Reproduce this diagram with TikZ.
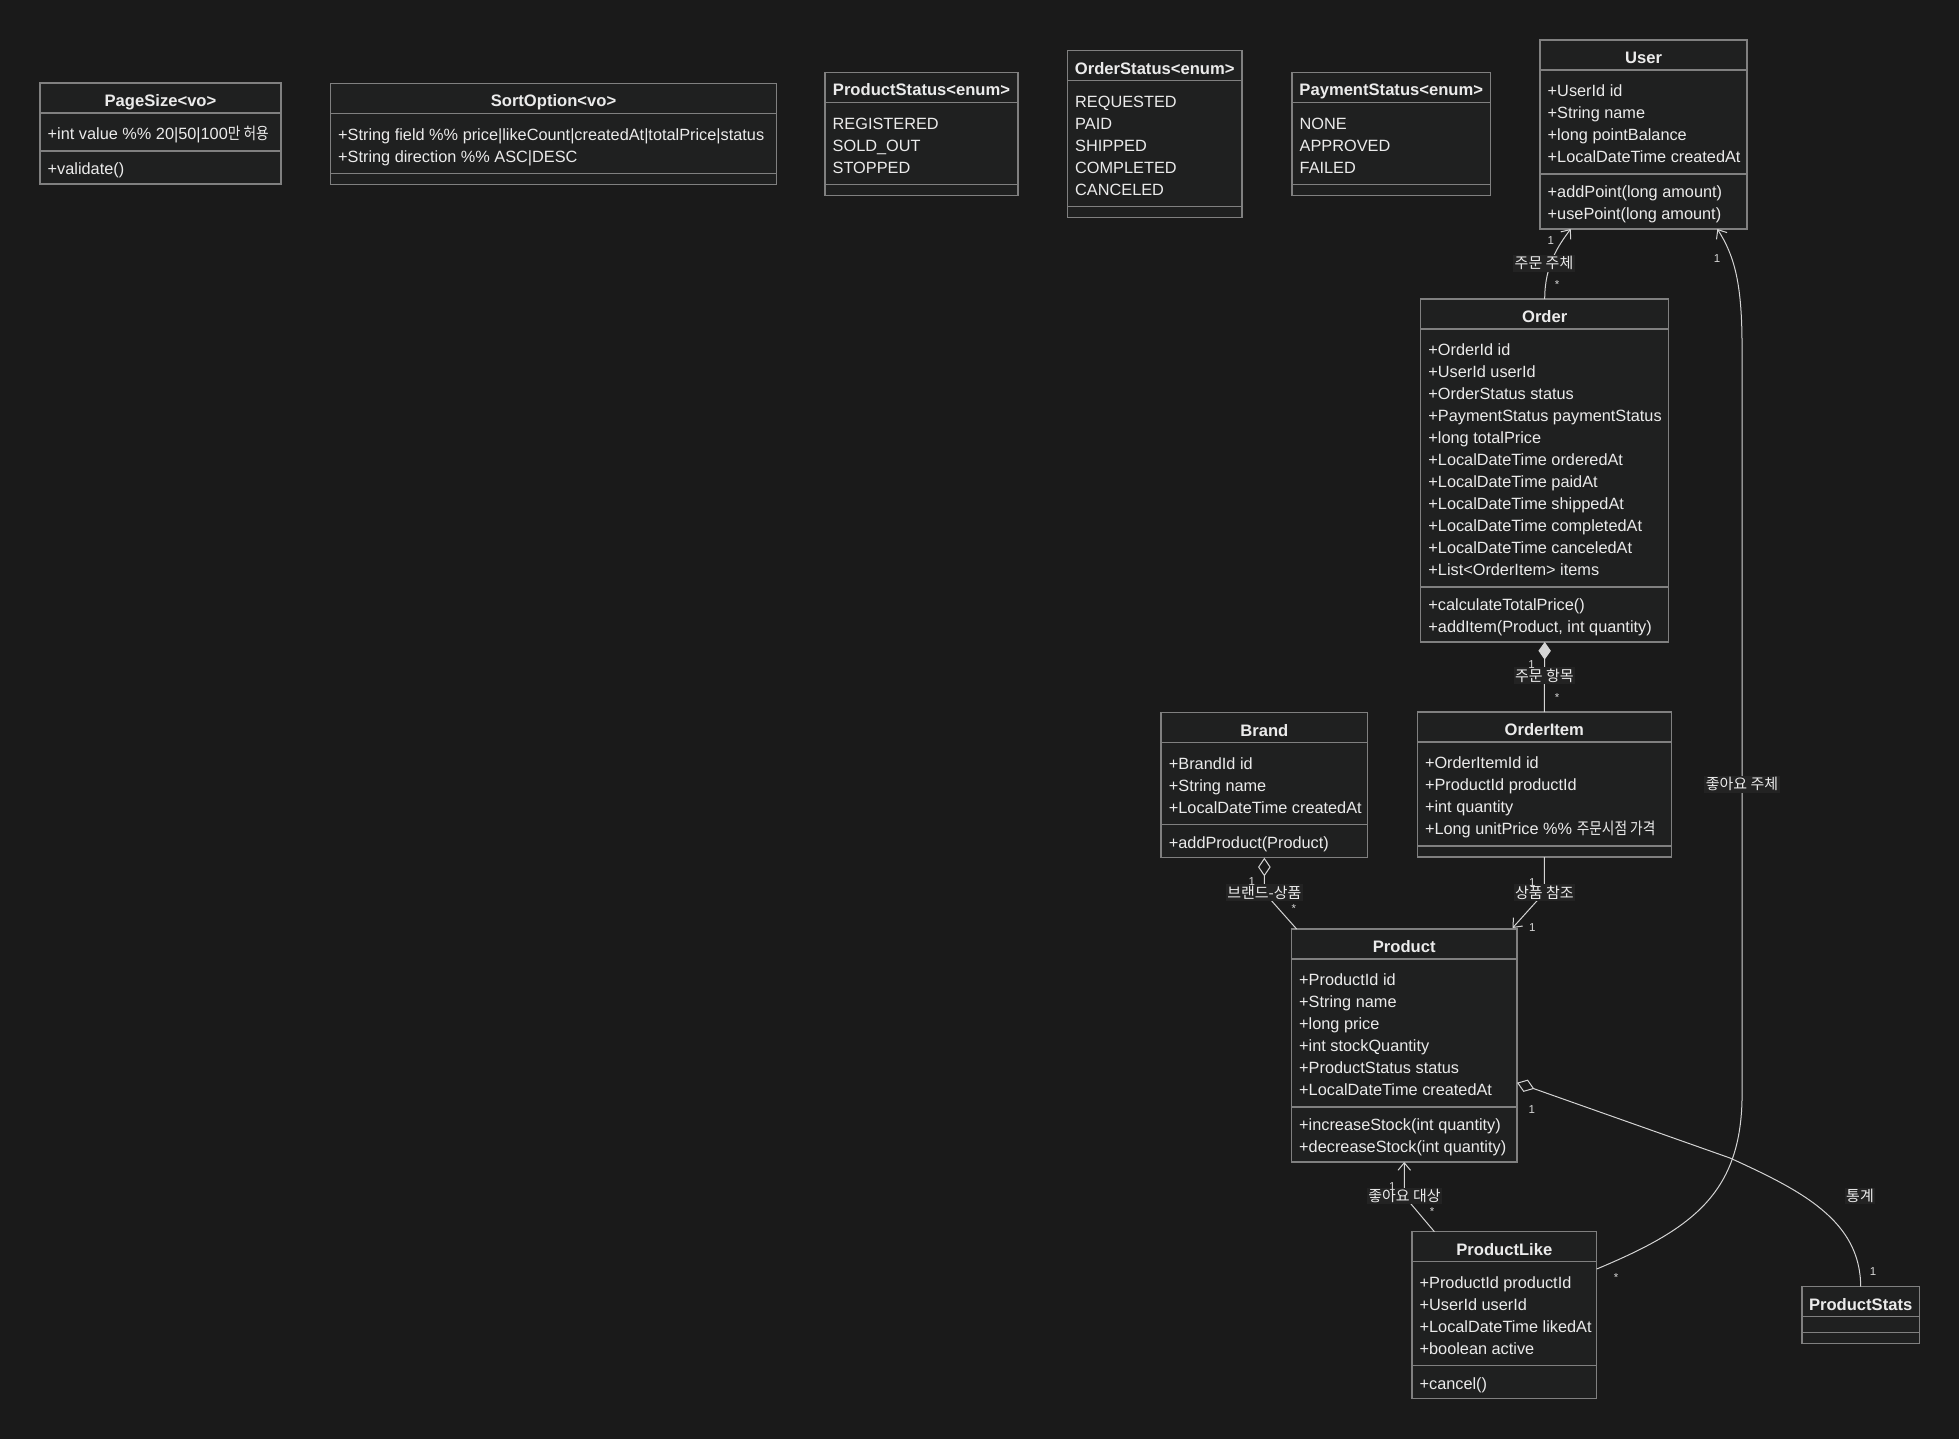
\documentclass[tikz,border=0pt]{standalone}
\usepackage{fontspec}
\setmainfont{Liberation Sans}
\newfontfamily\kr{Noto Sans CJK KR}
\newfontfamily\krrow[FakeStretch=0.84]{Noto Sans CJK KR}
\usetikzlibrary{arrows.meta,calc}
\definecolor{canvas}{HTML}{1A1A1A}
\definecolor{boxfill}{HTML}{1F2020}
\definecolor{boxline}{HTML}{808080}
\definecolor{txt}{HTML}{EBEBEB}
\definecolor{edgecol}{HTML}{D4D4D4}
\definecolor{lblbg}{HTML}{232323}
\definecolor{multcol}{HTML}{D8D8D8}
\tikzset{
 classbox/.style={draw=boxline, fill=boxfill, line width=1.5pt, rectangle, inner sep=0, outer sep=0},
 divider/.style={draw=boxline, line width=1.5pt},
 titletext/.style={inner sep=0, text=txt, font=\bfseries\fontsize{16.6}{20}\selectfont},
 rowtext/.style={inner sep=0, text=txt, font=\fontsize{16.3}{20}\selectfont},
 edge/.style={draw=edgecol, line width=1pt},
 elabel/.style={fill=lblbg, text=txt, inner sep=1.5pt, font=\kr\fontsize{15}{17}\selectfont},
 mult/.style={text=multcol, inner sep=0, font=\fontsize{11.5}{13}\selectfont},
 barb/.style={-{Straight Barb[length=7.5pt,width=12.5pt]}},
}
% #1 name #2 x #3 top #4 width #5 nAttr #6 nMeth #7 title #8 attrs #9 methods
\newcommand\umlclass[9]{%
  \pgfmathsetmacro\uA{#3+30}%
  \pgfmathsetmacro\uB{\uA+22*#5+16}%
  \pgfmathsetmacro\uC{\uB+22*#6+11}%
  \pgfmathsetmacro\uR{#2+#4}%
  \pgfmathsetmacro\uH{\uC-#3}%
  \pgfmathsetmacro\uX{#2+#4/2}%
  \pgfmathsetmacro\uT{#3+23.7}%
  \node[classbox, minimum width=#4pt, minimum height=\uH pt, anchor=north west] (#1) at (#2,#3) {};
  \draw[divider] (#2,\uA) -- (\uR,\uA);
  \draw[divider] (#2,\uB) -- (\uR,\uB);
  \node[titletext, anchor=base] (#1-title) at (\uX,\uT) {#7};
  \ifnum#5>0
    \foreach \t [count=\i] in {#8} {%
      \pgfmathsetmacro\uY{\uA+22*\i-1+5.8}%
      \node[rowtext, anchor=base west] (#1-a\i) at (#2+7.5,\uY) {\t};
    }%
  \fi
  \ifnum#6>0
    \foreach \t [count=\i] in {#9} {%
      \pgfmathsetmacro\uY{\uB+22*\i-4.5+5.8}%
      \node[rowtext, anchor=base west] (#1-m\i) at (#2+7.5,\uY) {\t};
    }%
  \fi
}
\begin{document}
\begin{tikzpicture}[x=1pt,y=-1pt]
\useasboundingbox (0,0) rectangle (1959,1439);
\fill[canvas] (0,0) rectangle (1959,1439);

\umlclass{pagesize}{40}{83}{241}{1}{1}{PageSize<vo>}{+int value \%\% 20|50|100{\krrow 만 허용}}{+validate()}
\umlclass{sortoption}{330.5}{83.3}{446}{2}{0}{SortOption<vo>}{+String field \%\% price|likeCount|createdAt|totalPrice|status,+String direction \%\% ASC|DESC}{}
\umlclass{productstatus}{825}{72.3}{193}{3}{0}{ProductStatus<enum>}{REGISTERED,SOLD\_OUT,STOPPED}{}
\umlclass{orderstatus}{1067.5}{50.7}{174.5}{5}{0}{OrderStatus<enum>}{REQUESTED,PAID,SHIPPED,COMPLETED,CANCELED}{}
\umlclass{paymentstatus}{1292}{72.3}{198.5}{3}{0}{PaymentStatus<enum>}{NONE,APPROVED,FAILED}{}
\umlclass{user}{1540}{40}{207}{4}{2}{User}{+UserId id,+String name,+long pointBalance,+LocalDateTime createdAt}{+addPoint(long amount),+usePoint(long amount)}
\umlclass{order}{1420.7}{299}{248}{11}{2}{Order}{+OrderId id,+UserId userId,+OrderStatus status,+PaymentStatus paymentStatus,+long totalPrice,+LocalDateTime orderedAt,+LocalDateTime paidAt,+LocalDateTime shippedAt,+LocalDateTime completedAt,+LocalDateTime canceledAt,+List<OrderItem> items}{+calculateTotalPrice(),{+addItem(Product, int quantity)}}
\umlclass{brand}{1161.2}{712.7}{206.3}{3}{1}{Brand}{+BrandId id,+String name,+LocalDateTime createdAt}{+addProduct(Product)}
\umlclass{orderitem}{1417.3}{712}{254}{4}{0}{OrderItem}{+OrderItemId id,+ProductId productId,+int quantity,+Long unitPrice \%\% {\krrow 주문시점 가격}}{}
\umlclass{product}{1291.5}{929}{225.5}{6}{2}{Product}{+ProductId id,+String name,+long price,+int stockQuantity,+ProductStatus status,+LocalDateTime createdAt}{+increaseStock(int quantity),+decreaseStock(int quantity)}
\umlclass{productlike}{1411.9}{1231.7}{184.8}{4}{1}{ProductLike}{+ProductId productId,+UserId userId,+LocalDateTime likedAt,+boolean active}{+cancel()}
\umlclass{productstats}{1801.9}{1286.7}{117.5}{0}{0}{ProductStats}{}{}

% ---- edges ----
% Order -> User
\draw[edge, barb] (order.north) .. controls +(0,-34) and +(-12,16) .. ($(user.south west)+(30.7,0)$);
% Order <>-- OrderItem (composition)
\draw[edge, {Diamond[length=17.6pt,width=12.4pt,fill=edgecol]}-] (order.south) -- (orderitem.north);
% Brand o-- Product
\coordinate (b3) at (1264.35,892.7);
\draw[edge, {Diamond[open,length=18.7pt,width=12.6pt]}-] (brand.south) -- (b3) -- ($(product.north west)+(5.1,0)$);
% OrderItem -> Product
\coordinate (b4) at (1544.3,892.7);
\draw[edge, barb] (orderitem.south) -- (b4) -- ($(product.north east)+(-4.5,-1)$);
% ProductLike -> Product
\coordinate (b5) at (1404.25,1196);
\draw[edge, barb] ($(productlike.north west)+(22.5,0)$) -- (b5) -- (product.south);
% ProductLike -> User
\draw[edge, barb] ($(productlike.north east)+(0,37.3)$) .. controls (1690,1230) and (1740,1195) .. (1742,1100) -- (1742,340) .. controls (1741.5,282) and (1734,255) .. ($(user.south east)+(-29.7,0)$);
% Product o-- ProductStats
\coordinate (b7) at (1730,1158);
\draw[edge, {Diamond[open,length=18.3pt,width=13pt]}-] ($(product.north east)+(0,153.7)$) -- (b7) .. controls (1800,1190) and (1860.65,1220) .. (productstats.north);

% ---- edge labels ----
\node[elabel] (l1) at (1544,263.3) {주문 주체};
\node[elabel] (l2) at (1544.3,675.7) {주문 항목};
\node[elabel] (l3) at (1264.35,892.7) {브랜드-상품};
\node[elabel] (l4) at (1544.3,892.7) {상품 참조};
\node[elabel] (l5) at (1404.5,1196) {좋아요 대상};
\node[elabel] (l6) at (1742,784.3) {좋아요 주체};
\node[elabel] (l7) at (1860,1196) {통계};

% ---- multiplicities ----
\node[mult] (m1a) at (1550.7,240.7) {1};
\node[mult] (m1b) at (1557,284.5) {*};
\node[mult] (m2a) at (1531.6,665) {1};
\node[mult] (m2b) at (1557,697.5) {*};
\node[mult] (m3a) at (1251.7,881.7) {1};
\node[mult] (m3b) at (1293.8,908.5) {*};
\node[mult] (m4a) at (1532.3,882.3) {1};
\node[mult] (m4b) at (1532.3,927.7) {1};
\node[mult] (m5a) at (1392.4,1186.7) {1};
\node[mult] (m5b) at (1432.2,1211.8) {*};
\node[mult] (m6a) at (1717,259) {1};
\node[mult] (m6b) at (1616.2,1277.5) {*};
\node[mult] (m7a) at (1531.8,1110) {1};
\node[mult] (m7b) at (1873,1271.7) {1};
\end{tikzpicture}
\end{document}
